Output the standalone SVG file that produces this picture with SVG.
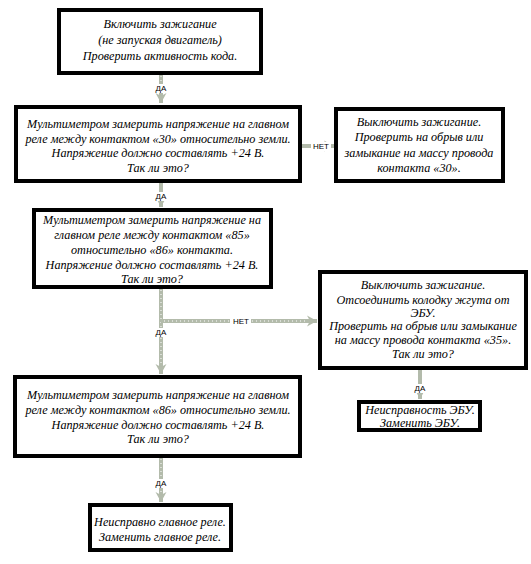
<svg xmlns="http://www.w3.org/2000/svg" width="531" height="564" viewBox="0 0 531 564">
<style>
.box{fill:#fff;stroke:#000;stroke-width:4}
.t{font-family:"Liberation Serif","Times New Roman",serif;font-style:italic;font-size:12.2px;text-anchor:middle;fill:#000}
.lbl{font-family:"Liberation Sans",sans-serif;font-size:8px;text-anchor:middle;fill:#000}
.c{fill:none;stroke:#b3bbab;stroke-width:4}
.cd{fill:none;stroke:#fff;stroke-width:1;stroke-dasharray:1 3}
.ah{fill:#b3bbab}
.lb{fill:#fff}
</style>
<defs>
<marker id="arr" markerUnits="userSpaceOnUse" markerWidth="12" markerHeight="12" viewBox="0 0 12 12" refX="11" refY="6" orient="auto">
<path class="ah" d="M1,0.5 L11,6 L1,11.5 L4,6 Z"/>
</marker>
</defs>
<rect width="531" height="564" fill="#fff"/>
<g id="connectors">
<path class="c" d="M161,75 V103" marker-end="url(#arr)"/>
<path class="cd" d="M161,76 V96"/>
<path class="c" d="M302,146 V146 H334" marker-end="url(#arr)"/>
<path class="c" d="M161,183 V207" marker-end="url(#arr)"/>
<path class="c" d="M161,289 V374" marker-end="url(#arr)"/>
<path class="cd" d="M161,290 V366"/>
<path class="c" d="M161,321 H317" marker-end="url(#arr)"/>
<path class="cd" d="M164,321 H308"/>
<path class="c" d="M420,370 V399" marker-end="url(#arr)"/>
<path class="c" d="M161,458 V502" marker-end="url(#arr)"/>
<path class="cd" d="M161,459 V494"/>
<rect class="lb" x="153" y="84" width="16" height="9"/>
<text class="lbl" x="161" y="91">ДА</text>
<rect class="lb" x="311" y="142" width="20" height="9"/>
<text class="lbl" x="321" y="149">НЕТ</text>
<rect class="lb" x="153" y="192" width="16" height="9"/>
<text class="lbl" x="161" y="199">ДА</text>
<rect class="lb" x="230" y="317" width="21" height="9"/>
<text class="lbl" x="241" y="324">НЕТ</text>
<rect class="lb" x="153" y="328" width="16" height="9"/>
<text class="lbl" x="161" y="335">ДА</text>
<rect class="lb" x="412" y="384" width="16" height="9"/>
<text class="lbl" x="420" y="391">ДА</text>
<rect class="lb" x="153" y="479" width="16" height="9"/>
<text class="lbl" x="161" y="486">ДА</text>
</g>
<g id="n1">
<rect class="box" x="59" y="10" width="202" height="63"/>
<text class="t" x="160" y="28">Включить зажигание</text>
<text class="t" x="160" y="44">(не запуская двигатель)</text>
<text class="t" x="160" y="60">Проверить активность кода.</text>
</g>
<g id="n2">
<rect class="box" x="16" y="107" width="284" height="74"/>
<text class="t" x="158" y="128">Мультиметром замерить напряжение на главном</text>
<text class="t" x="158" y="142.5">реле между контактом «30» относительно земли.</text>
<text class="t" x="158" y="157">Напряжение должно составлять +24 В.</text>
<text class="t" x="158" y="171.5">Так ли это?</text>
</g>
<g id="n3">
<rect class="box" x="336" y="109" width="167" height="72"/>
<text class="t" x="419" y="126">Выключить зажигание.</text>
<text class="t" x="419" y="141">Проверить на обрыв или</text>
<text class="t" x="419" y="156.5">замыкание на массу провода</text>
<text class="t" x="419" y="172">контакта  «30».</text>
</g>
<g id="n4">
<rect class="box" x="34" y="210" width="237" height="77"/>
<text class="t" x="152" y="224">Мультиметром замерить напряжение на</text>
<text class="t" x="152" y="239">главном реле между контактом «85»</text>
<text class="t" x="152" y="254">относительно «86»  контакта.</text>
<text class="t" x="152" y="269">Напряжение должно составлять +24 В.</text>
<text class="t" x="152" y="283">Так ли это?</text>
</g>
<g id="n5">
<rect class="box" x="320" y="272" width="206" height="96"/>
<text class="t" x="423" y="289">Выключить зажигание.</text>
<text class="t" x="423" y="303.5">Отсоединить колодку жгута от</text>
<text class="t" x="423" y="317">ЭБУ.</text>
<text class="t" x="423" y="330">Проверить на обрыв или замыкание</text>
<text class="t" x="423" y="344">на массу провода контакта  «35».</text>
<text class="t" x="423" y="358">Так ли это?</text>
</g>
<g id="n6">
<rect class="box" x="359" y="402" width="121" height="28"/>
<text class="t" x="420" y="414">Неисправность ЭБУ.</text>
<text class="t" x="420" y="427">Заменить ЭБУ.</text>
</g>
<g id="n7">
<rect class="box" x="15" y="377" width="285" height="79"/>
<text class="t" x="158" y="399">Мультиметром замерить напряжение на главном</text>
<text class="t" x="158" y="414">реле между контактом «86» относительно земли.</text>
<text class="t" x="158" y="429">Напряжение должно составлять +24 В.</text>
<text class="t" x="158" y="443">Так ли это?</text>
</g>
<g id="n8">
<rect class="box" x="90" y="505" width="141" height="45"/>
<text class="t" x="160" y="526">Неисправно главное реле.</text>
<text class="t" x="160" y="541">Заменить главное реле.</text>
</g>
</svg>
